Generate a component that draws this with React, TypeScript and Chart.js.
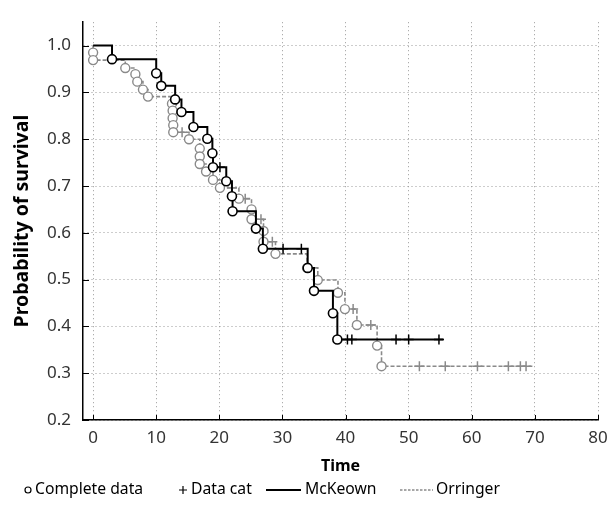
import React, { useEffect, useRef } from "react";
import { Chart, registerables } from "chart.js";

Chart.register(...registerables);

// ---- data ----
const xTicks = [0, 10, 20, 30, 40, 50, 60, 70, 80];
const yTicks = [0.2, 0.3, 0.4, 0.5, 0.6, 0.7, 0.8, 0.9, 1.0];

const mckeownEventTimes = [3.0, 10.0, 10.8, 13.0, 14.0, 15.9, 18.1, 18.9, 19.0, 21.1, 22.0, 22.1, 25.8, 26.9, 34.0, 35.0, 38.0, 38.7];
const mckeownEventSurv = [0.971, 0.941, 0.914, 0.885, 0.858, 0.826, 0.801, 0.770, 0.740, 0.710, 0.678, 0.646, 0.609, 0.566, 0.525, 0.476, 0.428, 0.372];
const mckeownCensorTimes = [20.1, 30.1, 33.0, 40.3, 41.0, 48.0, 50.0, 54.8];
const mckeownCensorSurv = [0.740, 0.566, 0.566, 0.372, 0.372, 0.372, 0.372, 0.372];
const mckeownEnd = 55.5;

const orringerEventTimes = [0.0, 0.0, 5.1, 6.7, 7.0, 7.9, 8.7, 12.5, 12.6, 12.6, 12.7, 12.7, 15.2, 16.9, 16.9, 16.9, 17.9, 19.0, 20.1, 23.1, 25.1, 25.1, 27.0, 27.0, 28.9, 33.9, 35.6, 38.8, 39.9, 41.8, 45.0, 45.7];
const orringerEventSurv = [0.985, 0.969, 0.952, 0.939, 0.923, 0.906, 0.891, 0.876, 0.861, 0.845, 0.830, 0.815, 0.800, 0.780, 0.763, 0.747, 0.731, 0.713, 0.696, 0.673, 0.650, 0.629, 0.604, 0.581, 0.555, 0.525, 0.499, 0.472, 0.437, 0.403, 0.359, 0.315];
const orringerCensorTimes = [14.1, 22.0, 24.1, 26.6, 28.4, 41.2, 44.0, 51.7, 55.8, 60.9, 65.8, 67.7, 68.6];
const orringerCensorSurv = [0.815, 0.696, 0.673, 0.629, 0.581, 0.437, 0.403, 0.315, 0.315, 0.315, 0.315, 0.315, 0.315];
const orringerEnd = 69.6;

const legendLabels = ["Complete data", "Data cat", "McKeown", "Orringer"];

const FONT = "'Noto Sans', 'Open Sans', sans-serif";
const GRAY = "#8a8a8a";

const toPts = (xs: number[], ys: number[]) => xs.map((x, i) => ({ x, y: ys[i] }));
const stepLine = (xs: number[], ys: number[], end: number) => [
  { x: 0, y: 1 },
  ...toPts(xs, ys),
  { x: end, y: ys[ys.length - 1] },
];

export default function App() {
  const ref = useRef<HTMLCanvasElement>(null);

  useEffect(() => {
    const canvas = ref.current;
    if (!canvas) return;

    const innerTicks = {
      id: "innerTicks",
      afterDraw(chart: any) {
        const { ctx, chartArea, scales } = chart;
        ctx.save();
        ctx.strokeStyle = "#000";
        ctx.lineWidth = 1;
        ctx.beginPath();
        xTicks.forEach((v) => {
          const px = Math.round(scales.x.getPixelForValue(v)) + 0.5;
          ctx.moveTo(px, chartArea.bottom);
          ctx.lineTo(px, chartArea.bottom - 5);
        });
        yTicks.forEach((v) => {
          const py = Math.round(scales.y.getPixelForValue(v)) + 0.5;
          ctx.moveTo(chartArea.left, py);
          ctx.lineTo(chartArea.left + 6, py);
        });
        ctx.stroke();
        ctx.restore();
      },
    };

    const legendPlugin = {
      id: "customLegend",
      afterDraw(chart: any) {
        const { ctx } = chart;
        const y = 490;
        ctx.save();
        ctx.font = `15.7px ${FONT}`;
        ctx.fillStyle = "#000";
        ctx.textBaseline = "middle";
        ctx.textAlign = "left";
        // circle
        ctx.strokeStyle = "#000";
        ctx.lineWidth = 1.2;
        ctx.beginPath();
        ctx.arc(28, y, 3, 0, Math.PI * 2);
        ctx.stroke();
        ctx.fillText(legendLabels[0], 35, y);
        // plus
        ctx.lineWidth = 1.2;
        ctx.beginPath();
        ctx.moveTo(179, y);
        ctx.lineTo(187, y);
        ctx.moveTo(183, y - 4);
        ctx.lineTo(183, y + 4);
        ctx.stroke();
        ctx.fillText(legendLabels[1], 191, y);
        // solid line
        ctx.lineWidth = 2;
        ctx.beginPath();
        ctx.moveTo(266, y);
        ctx.lineTo(301, y);
        ctx.stroke();
        ctx.fillText(legendLabels[2], 305, y);
        // dashed line
        ctx.strokeStyle = GRAY;
        ctx.lineWidth = 1.5;
        ctx.setLineDash([2.5, 1.5]);
        ctx.beginPath();
        ctx.moveTo(400, y);
        ctx.lineTo(433, y);
        ctx.stroke();
        ctx.setLineDash([]);
        ctx.fillText(legendLabels[3], 436, y);
        ctx.restore();
      },
    };

    const chart = new Chart(canvas, {
      type: "line",
      data: {
        datasets: [
          {
            label: "McKeown events",
            type: "scatter",
            data: toPts(mckeownEventTimes, mckeownEventSurv),
            pointStyle: "circle",
            pointRadius: 4.5,
            pointBorderWidth: 1.6,
            pointBorderColor: "#000",
            pointBackgroundColor: "#fff",
            showLine: false,
            order: 1,
          } as any,
          {
            label: "McKeown censored",
            type: "scatter",
            data: toPts(mckeownCensorTimes, mckeownCensorSurv),
            pointStyle: "cross",
            pointRadius: 5,
            pointBorderWidth: 1.5,
            pointBorderColor: "#000",
            showLine: false,
            order: 2,
          } as any,
          {
            label: "McKeown",
            data: stepLine(mckeownEventTimes, mckeownEventSurv, mckeownEnd),
            stepped: true,
            borderColor: "#000",
            borderWidth: 2,
            pointRadius: 0,
            fill: false,
            order: 3,
          } as any,
          {
            label: "Orringer events",
            type: "scatter",
            data: toPts(orringerEventTimes, orringerEventSurv),
            pointStyle: "circle",
            pointRadius: 4.5,
            pointBorderWidth: 1.4,
            pointBorderColor: GRAY,
            pointBackgroundColor: "#fff",
            showLine: false,
            order: 4,
          } as any,
          {
            label: "Orringer censored",
            type: "scatter",
            data: toPts(orringerCensorTimes, orringerCensorSurv),
            pointStyle: "cross",
            pointRadius: 5,
            pointBorderWidth: 1.5,
            pointBorderColor: GRAY,
            showLine: false,
            order: 5,
          } as any,
          {
            label: "Orringer",
            data: stepLine(orringerEventTimes, orringerEventSurv, orringerEnd),
            stepped: true,
            borderColor: GRAY,
            borderWidth: 1.6,
            borderDash: [4, 2],
            pointRadius: 0,
            fill: false,
            order: 6,
          } as any,
        ],
      },
      options: {
        responsive: false,
        devicePixelRatio: 1,
        animation: false,
        layout: { padding: { left: 0, right: 18, top: 14, bottom: 29 } },
        plugins: {
          legend: { display: false },
          tooltip: { enabled: false },
        },
        scales: {
          x: {
            type: "linear",
            min: -1.6,
            max: 80,
            afterBuildTicks: (s: any) => {
              s.ticks = xTicks.map((v) => ({ value: v }));
            },
            afterFit: (s: any) => {
              s.height = 60;
            },
            grid: { color: "#9a9a9a", lineWidth: 1, drawTicks: false },
            border: { display: true, color: "#000", width: 1.5, dash: [1, 3] },
            ticks: {
              font: { family: FONT, size: 17 },
              color: "#333",
              padding: 8,
              maxRotation: 0,
            },
            title: {
              display: true,
              text: "Time",
              color: "#000",
              font: { family: FONT, size: 16, weight: "bold" },
              padding: { top: 0, bottom: 4 },
            },
          },
          y: {
            type: "linear",
            min: 0.2,
            max: 1.05,
            afterBuildTicks: (s: any) => {
              s.ticks = yTicks.map((v) => ({ value: v }));
            },
            afterFit: (s: any) => {
              s.width = 83;
            },
            grid: { color: "#9a9a9a", lineWidth: 1, drawTicks: false },
            border: { display: true, color: "#000", width: 1.5, dash: [1, 3] },
            ticks: {
              font: { family: FONT, size: 17 },
              color: "#333",
              padding: 12,
              callback: (v: any) => Number(v).toFixed(1),
            },
            title: {
              display: true,
              text: "Probability of survival",
              color: "#000",
              font: { family: FONT, size: 19.5, weight: "bold" },
              padding: { top: 11, bottom: 0 },
            },
          },
        },
      } as any,
      plugins: [innerTicks, legendPlugin],
    });

    return () => chart.destroy();
  }, []);

  return (
    <div style={{ position: "absolute", left: 0, top: 0, width: 616, height: 509 }}>
      <canvas ref={ref} width={616} height={509} style={{ width: 616, height: 509, display: "block" }} />
    </div>
  );
}
